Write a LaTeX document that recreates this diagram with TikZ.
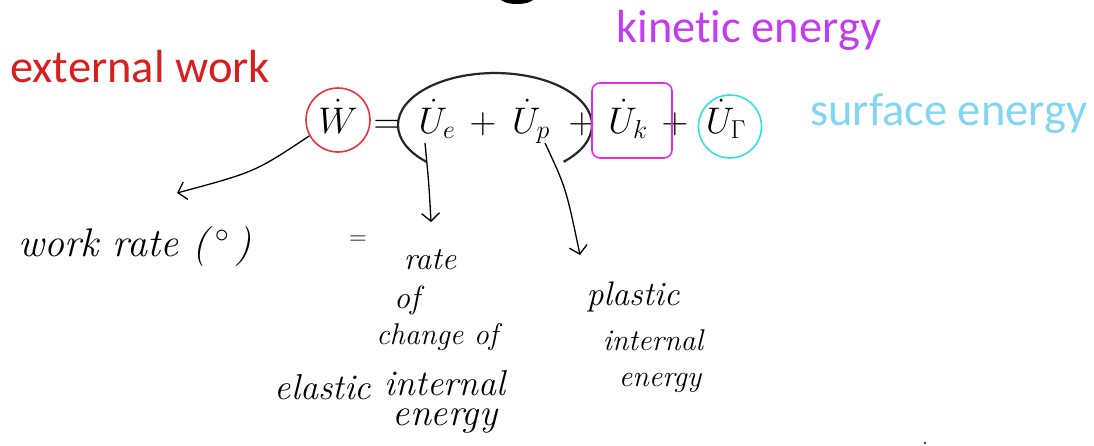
\RequirePackage{fix-cm}
\documentclass[tikz,border=0pt]{standalone}
\usepackage{fontspec}
\newfontfamily\calib[Ligatures=NoCommon]{Carlito}
\usetikzlibrary{arrows.meta,calc}
\definecolor{extred}{HTML}{D91E1E}
\definecolor{kinmag}{HTML}{C23CF0}
\definecolor{surfcyan}{HTML}{82D6F2}
\definecolor{circred}{HTML}{E8343A}
\definecolor{boxmag}{HTML}{E52AE5}
\definecolor{circcyan}{HTML}{33E0E8}
\begin{document}
\begin{tikzpicture}[x=1pt,y=-1pt,
  lbl/.style={font=\calib\fontsize{46.5}{50}\selectfont, anchor=base west, inner sep=0},
  eq/.style={font=\fontsize{37}{40}\selectfont, anchor=base, inner sep=0},
  hand/.style={font=\itshape\fontsize{#1}{#1}\selectfont, inner sep=0},
  hand/.default=30,
  handarrow/.style={line width=1.3pt, -{Straight Barb[length=8pt,width=18pt]}},
  ring/.style={line width=1.6pt, circle},
]
\useasboundingbox (0,0) rectangle (1094,445);
\begin{scope}
  \clip (0,0) rectangle (1094,445);
  \fill (517,-2) ellipse [x radius=17, y radius=6];
\end{scope}

% coloured labels
\node[lbl, text=extred] (ext) at (10,82) {external work};
\node[lbl, text=kinmag] (kin) at (616,42) {kinetic energy};
\node[lbl, text=surfcyan] (surf) at (810,125) {surface energy};

% equation
\node[eq] (w) at (338,133) {$\dot W$};
\node[eq] (eqs) at (387,133) {$=$};
\node[eq] (ue) at (437,133) {$\dot U_e$};
\node[eq] (p1) at (483,133) {$+$};
\node[eq] (up) at (531,133) {$\dot U_p$};
\node[eq] (p2) at (582,133) {$+$};
\node[eq] (uk) at (628,133) {$\dot U_k$};
\node[eq] (p3) at (675,133) {$+$};
\node[eq] (ug) at (726,133) {$\dot U_\Gamma$};

% highlights
\node[ring, draw=circred, minimum size=64pt] (wc) at (338,120) {};
\draw[black!85, line width=2.2pt] (426.4,161.8) arc[start angle=135, end angle=405, x radius=97, y radius=52];
\node[draw=boxmag, line width=1.6pt, rounded corners=8pt, minimum width=80pt, minimum height=75pt] (kbox) at (632,120.5) {};
\node[ring, draw=circcyan, minimum size=63pt] (gc) at (730,126.5) {};

% handwritten notes
\node[hand=40] (wr) at (135,247) {work rate (\,$^{\circ}$\,)};
\node[font=\fontsize{24}{26}\selectfont, inner sep=0] (heq) at (358,240) {=};
\node[hand=32] (h1) at (430,260) {rate};
\node[hand=32] (h2) at (407,300) {of};
\node[hand] (h3) at (437,337) {change of};
\node[hand=36] (h4) at (323,387) {elastic};
\node[hand=36] (h5) at (445,383) {internal};
\node[hand=38] (h6) at (445,421) {energy};
\node[hand=34] (h7) at (633,297) {plastic};
\node[hand] (h8) at (653,340) {internal};
\node[hand] (h9) at (660,383) {energy};

% arrows
\coordinate (wrtip) at (177,193);
\coordinate (uetail) at (425,143);
\coordinate (uetip) at (431,222);
\coordinate (uptail) at (545,143);
\coordinate (uptip) at (580,255);
\draw[handarrow] (wc.209) .. controls (255,172) .. (wrtip);
\draw[handarrow] (uetail) .. controls (429,185) .. (uetip);
\draw[handarrow] (uptail) .. controls (566,188) .. (uptip);

\fill (925,443) circle (1.2);
\end{tikzpicture}
\end{document}
